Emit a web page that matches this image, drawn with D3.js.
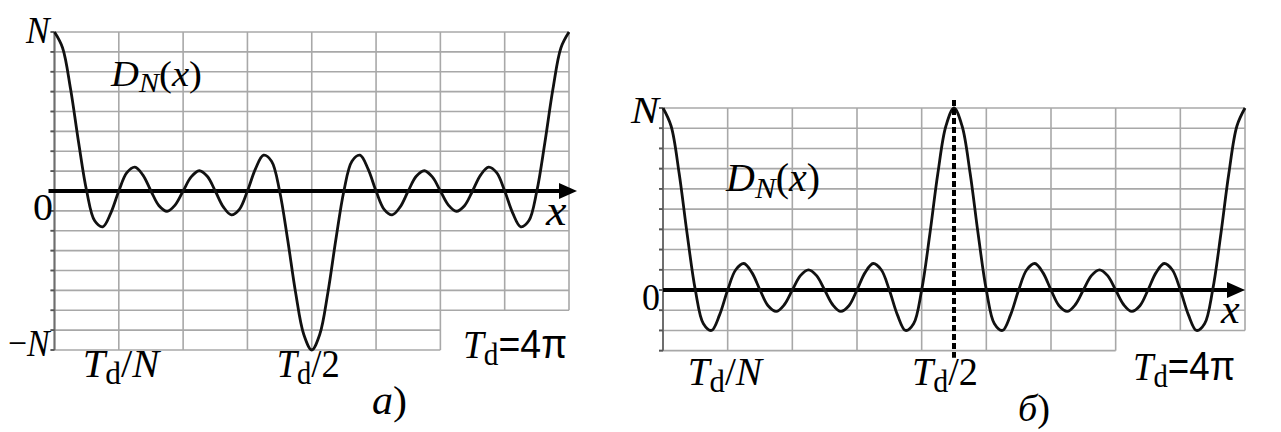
<!DOCTYPE html>
<html><head><meta charset="utf-8">
<script src="https://cdn.jsdelivr.net/npm/d3@7"></script>
<style>body{margin:0;background:#fff} svg{display:block}</style>
</head><body>
<svg id="c" width="1281" height="432"></svg>
<script>
// ---- data (in units of the grid: 1 cell = 1) ----
// panel a) N = 8, samples every Td/64
const seriesA = [8,7.21,5.13,2.44,0,-1.50,-1.80,-1.11,0,0.92,1.20,0.80,0,-0.74,-1.02,-0.71,0,0.71,1.02,0.74,0,-0.80,-1.20,-0.92,0,1.11,1.80,1.50,0,-2.44,-5.13,-7.21,-8,
  -7.21,-5.13,-2.44,0,1.50,1.80,1.11,0,-0.92,-1.20,-0.80,0,0.74,1.02,0.71,0,-0.71,-1.02,-0.74,0,0.80,1.20,0.92,0,-1.11,-1.80,-1.50,0,2.44,5.13,7.21,8];
// panel б) N = 9, samples every Td/72
const seriesB = [9,8.11,5.76,2.73,0,-1.67,-2.00,-1.23,0,1.00,1.31,0.86,0,-0.78,-1.06,-0.73,0,0.71,1.00,0.71,0,-0.73,-1.06,-0.78,0,0.86,1.31,1.00,0,-1.23,-2.00,-1.67,0,2.73,5.76,8.11,9,
  8.11,5.76,2.73,0,-1.67,-2.00,-1.23,0,1.00,1.31,0.86,0,-0.78,-1.06,-0.73,0,0.71,1.00,0.71,0,-0.73,-1.06,-0.78,0,0.86,1.31,1.00,0,-1.23,-2.00,-1.67,0,2.73,5.76,8.11,9];
const nA = 8, nB = 9;
const yTickLabelsA = ["N", "0", "\u2212N"];
const yTickLabelsB = ["N", "0"];
const xTickLabels = ["T_d/N", "T_d/2", "T_d=4\u03c0"];
const titleLabel = "D_N(x)";
const axisLabel = "x";
const panelLabels = ["\u0430)", "\u0431)"];

// ---- layout ----
const SERIF = "'Liberation Serif','Times New Roman',serif";
const SANS = "'Liberation Sans',Arial,sans-serif";
const svg = d3.select("#c");

function rich(sel, str, fs) {
  let sub = false, prevSub = false;
  for (let i = 0; i < str.length; i++) {
    const ch = str[i];
    if (ch === "_") { sub = true; continue; }
    const t = sel.append("tspan").text(ch);
    const italic = "TNDx\u0430\u0431".includes(ch);
    const sans = "=4\u03c0".includes(ch);
    t.attr("font-style", italic ? "italic" : "normal").attr("font-family", sans ? SANS : SERIF);
    if (sub) t.attr("font-size", fs * 0.78).attr("dy", fs * 0.17);
    else { t.attr("font-size", fs); if (prevSub) t.attr("dy", -fs * 0.17); }
    prevSub = sub; sub = false;
  }
}
function label(str, left, baseline, width, fs) {
  const t = svg.append("text").attr("fill", "#000");
  rich(t, str, fs);
  const bb = t.node().getBBox();
  const sx = width / bb.width;
  t.attr("transform", `translate(${left - bb.x * sx},${baseline}) scale(${sx},1)`);
}

const panels = [
  { n: nA, data: seriesA, x0: 54.5, x1: 569, yTop: 32, yZero: 191, minV: -8, cutT: 6 / 8, cutV: -6,
    axisStart: -6, arrowTip: 8, dashed: false },
  { n: nB, data: seriesB, x0: 663, x1: 1245, yTop: 108, yZero: 290, minV: -3, cutT: 7 / 9, cutV: -2,
    axisStart: 0, arrowTip: 0, dashed: true }
];

panels.forEach(p => {
  const x = d3.scaleLinear().domain([0, 1]).range([p.x0, p.x1]);
  const y = d3.scaleLinear().domain([0, p.n]).range([p.yZero, p.yTop]);
  p.x = x; p.y = y;
  const g = svg.append("g");
  // grid
  const grid = g.append("g").attr("stroke", "#a8a8a8").attr("stroke-width", 1.6);
  for (let k = 0; k <= p.n; k++) {
    const t = k / p.n;
    grid.append("line").attr("x1", x(t)).attr("x2", x(t))
      .attr("y1", y(p.n)).attr("y2", t > p.cutT + 1e-9 ? y(p.cutV) : y(p.minV));
  }
  for (let v = p.minV; v <= p.n; v++) {
    grid.append("line").attr("x1", x(0) - 4).attr("x2", v < p.cutV ? x(p.cutT) : x(1))
      .attr("y1", y(v)).attr("y2", y(v));
  }
  // left border, darker
  g.append("line").attr("x1", x(0)).attr("x2", x(0)).attr("y1", y(p.n)).attr("y2", y(p.minV))
    .attr("stroke", "#6e6e6e").attr("stroke-width", 2);
  g.append("g").selectAll("line").data(d3.range(p.minV, p.n + 1)).join("line")
    .attr("x1", x(0) - 4).attr("x2", x(0)).attr("y1", v => y(v)).attr("y2", v => y(v))
    .attr("stroke", "#555").attr("stroke-width", 1.8);
  // x axis with arrow
  const tipX = x(1) + p.arrowTip;
  g.append("line").attr("x1", x(0) + p.axisStart).attr("x2", tipX - 10)
    .attr("y1", y(0)).attr("y2", y(0)).attr("stroke", "#000").attr("stroke-width", 4);
  g.append("path").attr("d", `M${tipX},${y(0)} L${tipX - 18},${y(0) - 8} L${tipX - 18},${y(0) + 8} Z`).attr("fill", "#000");
  // curve
  const m = p.data.length - 1;
  const line = d3.line().x((d, i) => x(i / m)).y(d => y(d)).curve(d3.curveCatmullRom.alpha(0.5));
  g.append("path").datum(p.data).attr("d", line).attr("fill", "none")
    .attr("stroke", "#111").attr("stroke-width", 2.8).attr("stroke-linejoin", "round");
  if (p.dashed) {
    g.append("line").attr("x1", x(0.5)).attr("x2", x(0.5)).attr("y1", y(p.n) - 8).attr("y2", y(p.minV) + 7)
      .attr("stroke", "#000").attr("stroke-width", 4).attr("stroke-dasharray", "6,3");
  }
});

const A = panels[0], B = panels[1];
// panel a labels
label(yTickLabelsA[0], 25, A.y(8) + 11, 27, 38);
label(yTickLabelsA[1], 33, A.y(0) + 29, 20, 37);
label(yTickLabelsA[2], 8, A.y(-8) + 6, 44, 38);
label(titleLabel, 110, 86, 92, 35);
label(axisLabel, 545, A.y(0) + 34, 22, 44);
label(xTickLabels[0], A.x(1 / nA) - 36, 377, 79, 41);
label(xTickLabels[1], A.x(0.5) - 35, 377, 63, 41);
label(xTickLabels[2], A.x(1) - 106, 358, 104, 41);
label(panelLabels[0], 372, 414, 35, 40);
// panel b labels
label(yTickLabelsB[0], 630, B.y(9) + 15, 32, 38);
label(yTickLabelsB[1], 642, B.y(0) + 20, 18, 38);
label(titleLabel, 725, 191, 95, 39);
label(axisLabel, 1220, B.y(0) + 33, 20, 42);
label(xTickLabels[0], B.x(1 / nB) - 40, 385, 77, 41);
label(xTickLabels[1], B.x(0.5) - 42, 385, 66, 41);
label(xTickLabels[2], B.x(1) - 112, 380, 102, 41);
label(panelLabels[1], 1018, 421, 32, 38);
</script>
</body></html>
